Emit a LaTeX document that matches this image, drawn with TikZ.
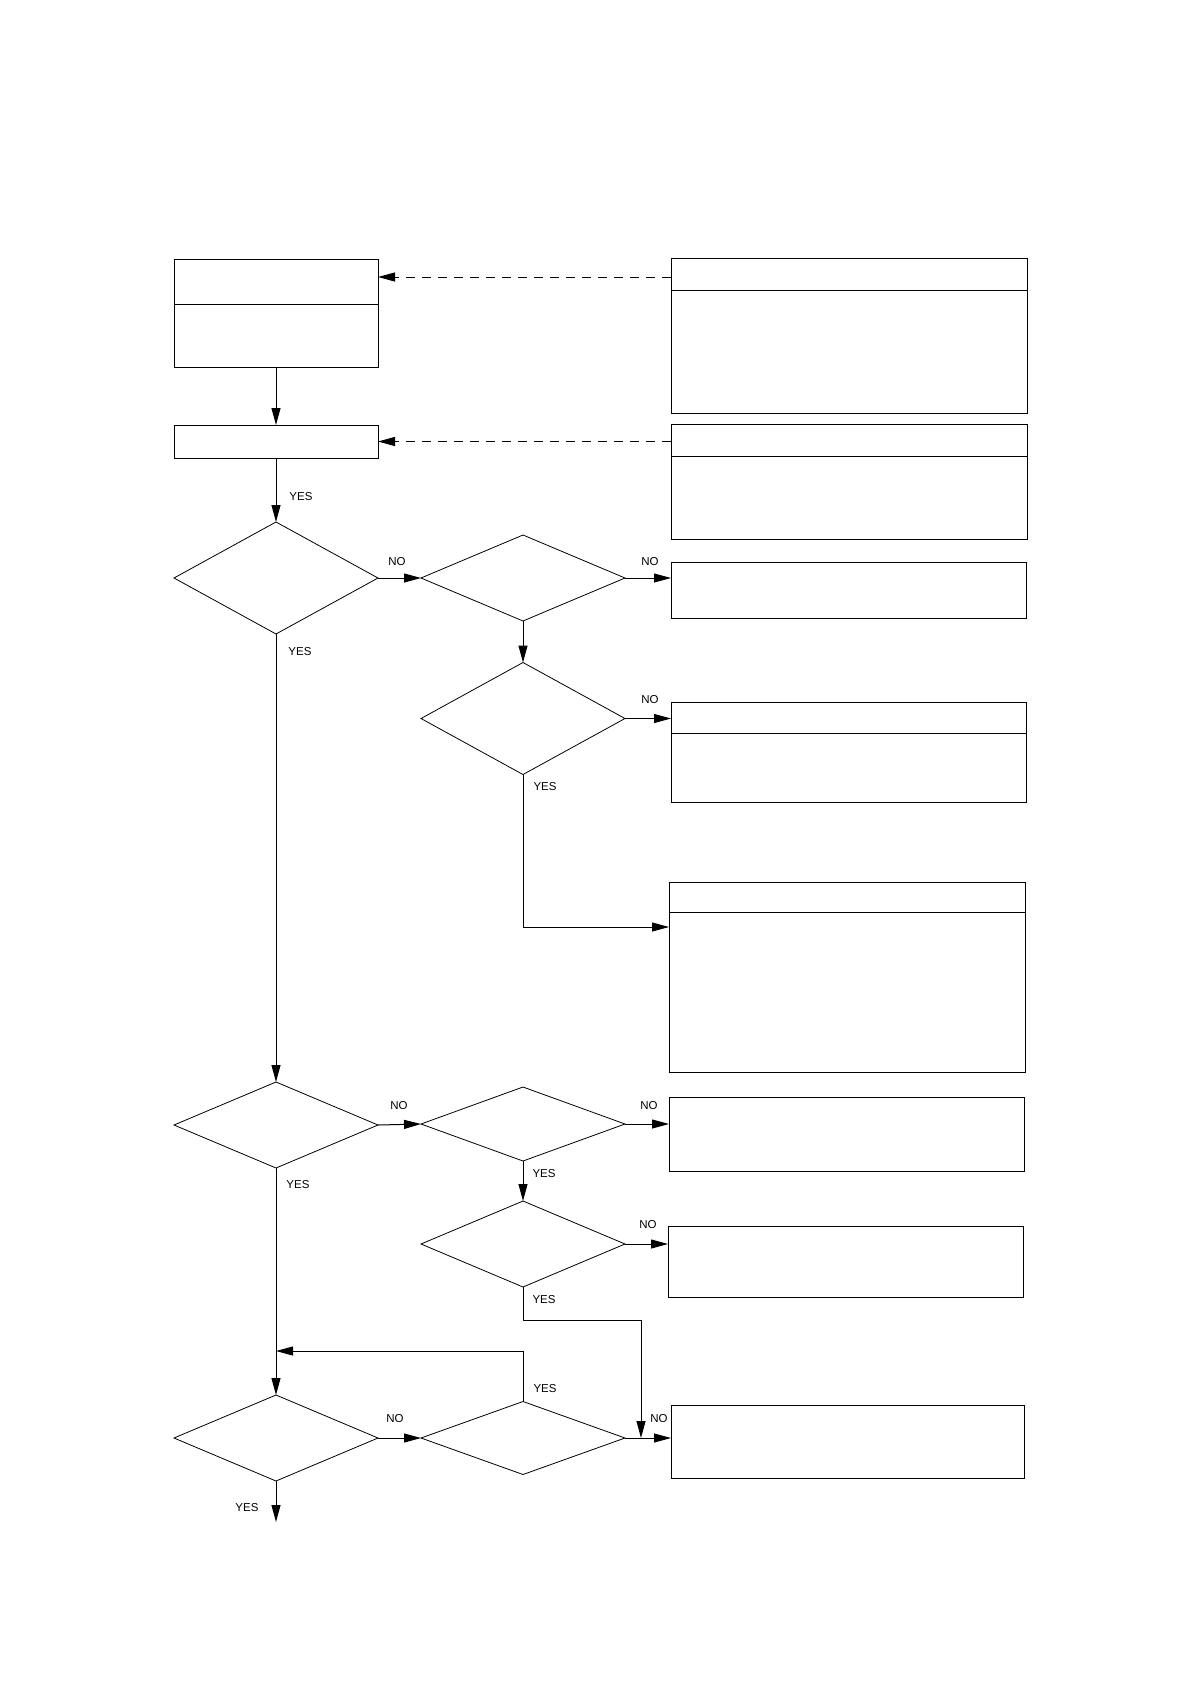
\documentclass[tikz,border=0pt]{standalone}
\usepackage{fontspec}
\setmainfont{Liberation Sans}
\usetikzlibrary{shapes.geometric,arrows.meta,calc}
\begin{document}
\begin{tikzpicture}[x=1pt,y=-1pt,
  box/.style={draw, line width=1pt, inner sep=0pt, outer sep=0pt},
  dia/.style={diamond, draw, line width=0.8pt, inner sep=0pt, outer sep=0pt, minimum width=204pt, minimum height=#1},
  arr/.style={line width=1pt, -{Triangle[length=17pt,width=9pt]}},
  dasharr/.style={arr, dash pattern=on 9pt off 7pt},
  lbl/.style={inner sep=0pt, font=\fontsize{11.5}{13}\selectfont}]
\useasboundingbox (0,0) rectangle (1190,1684);
% left boxes
\node[box, minimum width=204pt, minimum height=108pt] (B1) at (276,313) {};
\draw[line width=1pt] (B1.west |- 0,304) -- (B1.east |- 0,304);
\node[box, minimum width=204pt, minimum height=33pt] (B2) at (276,441.5) {};
% right boxes
\node[box, minimum width=356pt, minimum height=155pt] (R1) at (849,335.5) {};
\draw[line width=1pt] (R1.west |- 0,290) -- (R1.east |- 0,290);
\node[box, minimum width=356pt, minimum height=115pt] (R2) at (849,481.5) {};
\draw[line width=1pt] (R2.west |- 0,456) -- (R2.east |- 0,456);
\node[box, minimum width=355pt, minimum height=56pt] (R3) at (848.5,590) {};
\node[box, minimum width=355pt, minimum height=100pt] (R4) at (848.5,752) {};
\draw[line width=1pt] (R4.west |- 0,733) -- (R4.east |- 0,733);
\node[box, minimum width=356pt, minimum height=190pt] (R5) at (847,977) {};
\draw[line width=1pt] (R5.west |- 0,912) -- (R5.east |- 0,912);
\node[box, minimum width=355pt, minimum height=74pt] (R6) at (846.5,1134) {};
\node[box, minimum width=355pt, minimum height=71pt] (R7) at (845.5,1261.5) {};
\node[box, minimum width=353pt, minimum height=73pt] (R8) at (847.5,1441.5) {};
% diamonds
\node[dia=112pt] (D1) at (276,578) {};
\node[dia=86pt]  (D2) at (523,578) {};
\node[dia=112pt] (D3) at (523,718.5) {};
\node[dia=86pt]  (D4) at (276,1125) {};
\node[dia=74pt]  (D5) at (523,1124) {};
\node[dia=86pt]  (D6) at (523,1244) {};
\node[dia=86pt]  (D7) at (276,1438) {};
\node[dia=73pt]  (D8) at (523,1438) {};
\coordinate (J8) at (641,1438);
\coordinate (J6) at (641,1320);
\coordinate (JM) at (276,1351);
\coordinate (E7) at (276,1522);
\coordinate (T5) at (669,927);
% connectors
\draw[arr] (B1.south) -- (B2.north);
\draw[dasharr] (R1.west |- 0,277) -- (B1.east |- 0,277);
\draw[dasharr] (R2.west |- B2.east) -- (B2.east);
\draw[arr] (B2.south) -- (D1.north);
\draw[arr] (D1.east) -- (D2.west);
\draw[arr] (D2.east) -- (D2.east -| R3.west);
\draw[arr] (D2.south) -- (D3.north);
\draw[arr] (D3.east) -- (D3.east -| R4.west);
\draw[arr] (D3.south) |- (T5);
\draw[arr] (D1.south) -- (D4.north);
\draw[arr] (D4.east) -- (D5.west);
\draw[arr] (D5.east) -- (D5.east -| R6.west);
\draw[arr] (D5.south) -- (D6.north);
\draw[arr] (D6.east) -- (D6.east -| R7.west);
\draw[arr] (D6.south) |- (J6) -- (J8);
\draw[arr] (D4.south) -- (D7.north);
\draw[arr] (D8.north) |- (JM);
\draw[arr] (D7.east) -- (D8.west);
\draw[arr] (D8.east) -- (D8.east -| R8.west);
\draw[arr] (D7.south) -- (E7);
% labels
\node[lbl] (y1) at (301,497) {YES};
\node[lbl] (y2) at (300,652) {YES};
\node[lbl] (y3) at (545,787) {YES};
\node[lbl] (y4) at (298,1185) {YES};
\node[lbl] (y5) at (544,1174) {YES};
\node[lbl] (y6) at (544,1300) {YES};
\node[lbl] (y8) at (545,1389) {YES};
\node[lbl] (y7) at (247,1508) {YES};
\node[lbl] (n1) at (397,562) {NO};
\node[lbl] (n2) at (650,562) {NO};
\node[lbl] (n3) at (650,700) {NO};
\node[lbl] (n4) at (399,1106) {NO};
\node[lbl] (n5) at (649,1106) {NO};
\node[lbl] (n6) at (648,1225) {NO};
\node[lbl] (n7) at (395,1419) {NO};
\node[lbl] (n8) at (659,1419) {NO};
\end{tikzpicture}
\end{document}
